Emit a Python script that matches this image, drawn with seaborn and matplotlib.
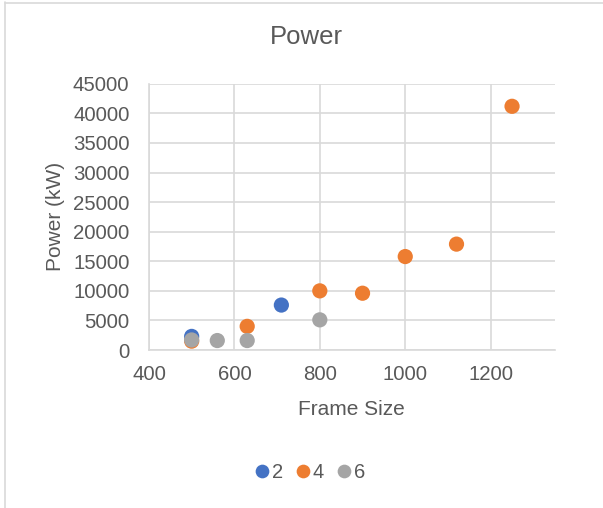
import matplotlib
matplotlib.use("Agg")
import matplotlib.pyplot as plt
from matplotlib.lines import Line2D
import seaborn as sns
import pandas as pd

sns.set_theme(style="white")
plt.rcParams["font.family"] = ["Liberation Sans", "DejaVu Sans"]

# Frame size vs. power, grouped by pole count
poles_2_frame = [500, 710]
poles_2_power = [2300, 7600]
poles_4_frame = [500, 630, 800, 900, 1000, 1120, 1250]
poles_4_power = [1500, 4000, 10000, 9600, 15800, 17900, 41200]
poles_6_frame = [500, 560, 630, 800]
poles_6_power = [1700, 1600, 1600, 5100]

series_names = ["2", "4", "6"]
series_colors = ["#4472C4", "#ED7D31", "#A5A5A5"]

frames = []
for name, xs, ys in zip(series_names,
                        [poles_2_frame, poles_4_frame, poles_6_frame],
                        [poles_2_power, poles_4_power, poles_6_power]):
    frames.append(pd.DataFrame({"Frame Size": xs, "Power (kW)": ys, "Poles": name}))
df = pd.concat(frames, ignore_index=True)

text_color = "#595959"
grid_color = "#D9D9D9"

fig = plt.figure(figsize=(6.03, 5.08), dpi=100)
ax = fig.add_axes([0.247, 0.311, 0.673, 0.524])

sns.scatterplot(data=df, x="Frame Size", y="Power (kW)", hue="Poles",
                hue_order=series_names, palette=series_colors,
                s=120, linewidth=0, ax=ax, zorder=3)

ax.set_xlim(400, 1350)
ax.set_ylim(0, 45000)
ax.set_xticks([400, 600, 800, 1000, 1200])
ax.set_yticks(range(0, 45001, 5000))
ax.grid(True, color=grid_color, linewidth=1.2)
ax.set_axisbelow(True)
for side in ["top", "right"]:
    ax.spines[side].set_visible(False)
for side in ["left", "bottom"]:
    ax.spines[side].set_color(grid_color)
    ax.spines[side].set_linewidth(1.2)
ax.tick_params(axis="both", colors=text_color, labelsize=14.7, length=0)
ax.tick_params(axis="y", pad=14)
ax.tick_params(axis="x", pad=11)
ax.set_xlabel("Frame Size", color=text_color, fontsize=15, labelpad=11)
ax.set_ylabel("Power (kW)", color=text_color, fontsize=15, labelpad=6)

fig.text(0.508, 0.927, "Power", ha="center", va="center", color=text_color, fontsize=18.5)

handles, labels = ax.get_legend_handles_labels()
ax.legend_.remove()
fig.legend(handles, labels, loc="center", bbox_to_anchor=(0.51, 0.069), ncol=3,
           frameon=False, fontsize=14.5, labelcolor=text_color, handletextpad=-0.1,
           columnspacing=0.4, markerscale=0.9, handlelength=1.2)

# chart frame edges
fig.add_artist(Line2D([4.5 / 603, 4.5 / 603], [0, 1 - 2 / 508], transform=fig.transFigure,
                      color=grid_color, linewidth=1.2))
fig.add_artist(Line2D([4.5 / 603, 1], [1 - 2.5 / 508, 1 - 2.5 / 508], transform=fig.transFigure,
                      color=grid_color, linewidth=1.2))

fig.savefig("out.png", dpi=100, facecolor="white")
